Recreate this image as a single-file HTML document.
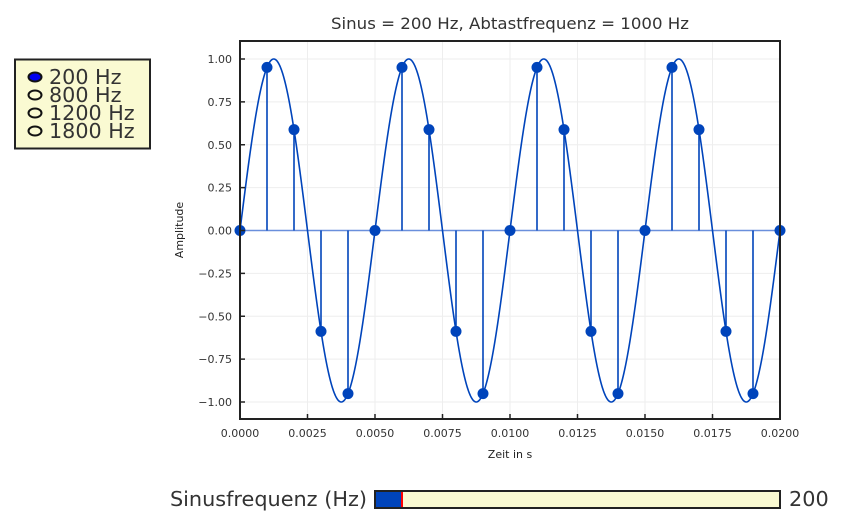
<!DOCTYPE html>
<html><head><meta charset="utf-8"><style>
body{margin:0;background:#fff;width:843px;height:525px;overflow:hidden;font-family:"DejaVu Sans","Liberation Sans",sans-serif}
</style></head><body>
<svg id="c" width="843" height="525" xmlns="http://www.w3.org/2000/svg"></svg>
<script>
const sinusFreq = 200;
const sampleTimes = [0,0.001,0.002,0.003,0.004,0.005,0.006,0.007,0.008,0.009,0.010,0.011,0.012,0.013,0.014,0.015,0.016,0.017,0.018,0.019,0.020];
const sampleValues = [0,0.951,0.588,-0.588,-0.951,0,0.951,0.588,-0.588,-0.951,0,0.951,0.588,-0.588,-0.951,0,0.951,0.588,-0.588,-0.951,0];
const xTicks = [0,0.0025,0.005,0.0075,0.01,0.0125,0.015,0.0175,0.02];
const xTickLabels = ["0.0000","0.0025","0.0050","0.0075","0.0100","0.0125","0.0150","0.0175","0.0200"];
const yTicks = [1,0.75,0.5,0.25,0,-0.25,-0.5,-0.75,-1];
const yTickLabels = ["1.00","0.75","0.50","0.25","0.00","\u22120.25","\u22120.50","\u22120.75","\u22121.00"];
const legendLabels = ["200 Hz","800 Hz","1200 Hz","1800 Hz"];
const sliderMin = 100, sliderMax = 1600, sliderValue = 200;

const NS="http://www.w3.org/2000/svg", svg=document.getElementById('c');
function mk(t,a,p){const e=document.createElementNS(NS,t);for(const k in a)e.setAttribute(k,a[k]);(p||svg).appendChild(e);return e;}
const L=240,R=780,T=41,B=419;
const sx=v=>L+(v-0)/(0.02)*(R-L);
const sy=v=>230.5-v*171.5;
const col="#0044bb";

let e;
xTicks.forEach(v=>{e=mk('line',{x1:sx(v),x2:sx(v),y1:T,y2:B,stroke:"#eee","stroke-width":1});
});
yTicks.forEach(v=>{e=mk('line',{x1:L,x2:R,y1:sy(v),y2:sy(v),stroke:"#eee","stroke-width":1});
});
e=mk('line',{x1:L,x2:R,y1:sy(0),y2:sy(0),stroke:"#6a8fdc","stroke-width":1.5});

let d="";for(let i=0;i<=1000;i++){const t=0.02*i/1000;d+=(i?"L":"M")+sx(t).toFixed(2)+","+sy(Math.sin(2*Math.PI*sinusFreq*t)).toFixed(2);}
e=mk('path',{d:d,fill:"none",stroke:col,"stroke-width":1.6});

sampleTimes.forEach((t,i)=>{
 e=mk('line',{x1:sx(t),x2:sx(t),y1:sy(0),y2:sy(sampleValues[i]),stroke:col,"stroke-width":1.6});
 
 e=mk('circle',{cx:sx(t),cy:sy(sampleValues[i]),r:5.5,fill:col});
 
});
e=mk('rect',{x:L,y:T,width:R-L,height:B-T,fill:"none",stroke:"#222","stroke-width":2});

xTicks.forEach((v,i)=>{
 e=mk('line',{x1:sx(v),x2:sx(v),y1:B,y2:B-5,stroke:"#222","stroke-width":1.5});
 
 e=mk('text',{x:sx(v),y:B+18,"text-anchor":"middle","font-size":11,fill:"#333"});e.textContent=xTickLabels[i];
 
});
yTicks.forEach((v,i)=>{
 e=mk('line',{x1:L,x2:L+5,y1:sy(v),y2:sy(v),stroke:"#222","stroke-width":1.5});
 
 e=mk('text',{x:L-8,y:sy(v)+4,"text-anchor":"end","font-size":11,fill:"#333"});e.textContent=yTickLabels[i];
 
});
e=mk('text',{x:510,y:29,"text-anchor":"middle","font-size":16.3,fill:"#333",textLength:358,lengthAdjust:"spacingAndGlyphs"});e.textContent="Sinus = 200 Hz, Abtastfrequenz = 1000 Hz";

e=mk('text',{x:510,y:458,"text-anchor":"middle","font-size":11,fill:"#222"});e.textContent="Zeit in s";

e=mk('text',{x:183,y:230,"text-anchor":"middle","font-size":11,fill:"#222",transform:"rotate(-90 183 230)"});e.textContent="Amplitude";

e=mk('rect',{x:15,y:59.5,width:135,height:89,fill:"#fafad2",stroke:"#222","stroke-width":2});

legendLabels.forEach((s,i)=>{
 const y=77+i*18;
 const g=mk('g',{});
 mk('ellipse',{cx:35,cy:y,rx:6.5,ry:4.5,fill:i===0?"#0000ee":"none",stroke:"#111","stroke-width":2},g);
 const t=mk('text',{x:49,y:y+7,"font-size":20.7,fill:"#333"},g);t.textContent=s;
});
e=mk('text',{x:367,y:506,"text-anchor":"end","font-size":20.8,fill:"#333"});e.textContent="Sinusfrequenz (Hz)";

const SL=375,SR=780,fx=SL+(sliderValue-sliderMin)/(sliderMax-sliderMin)*(SR-SL);
const sg=mk('g',{});
mk('rect',{x:SL,y:491,width:SR-SL,height:17,fill:"#fafad2",stroke:"#222","stroke-width":2},sg);
mk('rect',{x:SL+1,y:492,width:fx-SL-1,height:15,fill:col},sg);
mk('line',{x1:fx,x2:fx,y1:492,y2:507,stroke:"red","stroke-width":2},sg);
e=mk('text',{x:789,y:506,"font-size":20.8,fill:"#333"});e.textContent=String(sliderValue);

</script>
</body></html>
